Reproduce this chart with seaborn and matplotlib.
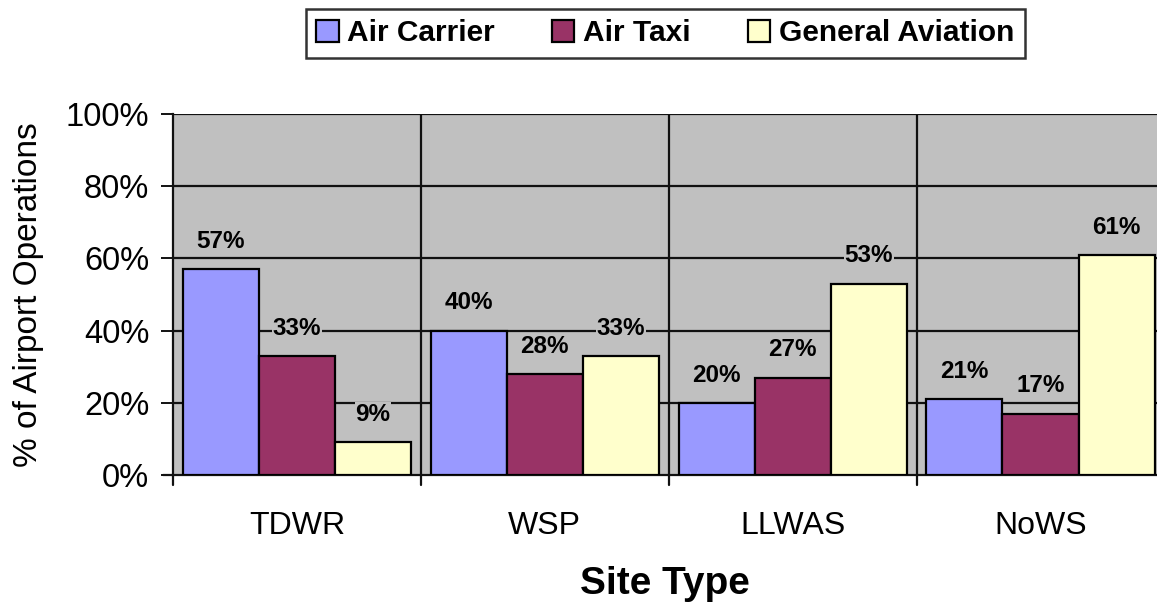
import pandas as pd
import matplotlib.pyplot as plt
import seaborn as sns

# data
sites = ["TDWR", "WSP", "LLWAS", "NoWS"]
series = ["Air Carrier", "Air Taxi", "General Aviation"]
air_carrier = [57, 40, 20, 21]
air_taxi = [33, 28, 27, 17]
general_aviation = [9, 33, 53, 61]
colors = ["#9999FF", "#993366", "#FFFFCC"]
y_ticks = [0, 20, 40, 60, 80, 100]

df = pd.DataFrame({
    "site": sites * 3,
    "series": [series[0]] * 4 + [series[1]] * 4 + [series[2]] * 4,
    "value": air_carrier + air_taxi + general_aviation,
})

sns.set_style("white")
plt.rcParams['font.family'] = ['Liberation Sans', 'DejaVu Sans']
plt.rcParams['text.color'] = 'black'
plt.rcParams['xtick.color'] = 'black'
plt.rcParams['ytick.color'] = 'black'
plt.rcParams['axes.labelcolor'] = 'black'

fig = plt.figure(figsize=(11.57, 6.07), dpi=100)
ax = fig.add_axes([0.1495, 0.2175, 0.8505, 0.5947])
ax.set_facecolor("#C0C0C0")

sns.barplot(data=df, x="site", y="value", hue="series", order=sites,
            hue_order=series, palette=colors, saturation=1, width=0.92, gap=0,
            edgecolor="black", linewidth=1.6, ax=ax, zorder=3)

# value labels above each bar
for container in ax.containers:
    for bar in container:
        h = bar.get_height()
        ax.annotate(f"{h:.0f}%", (bar.get_x() + bar.get_width() / 2, h),
                    xytext=(0, 20), textcoords="offset points",
                    ha="center", va="center", fontsize=17.5, fontweight="bold",
                    bbox=dict(facecolor="#C0C0C0", edgecolor="none", pad=0.5),
                    zorder=4)

ax.set_ylim(0, 100)
ax.set_xlim(-0.5, 3.47)
ax.set_yticks(y_ticks)
ax.set_yticklabels([f"{t}%" for t in y_ticks], fontsize=23.5)
ax.tick_params(axis="x", labelsize=23, length=0, pad=26)
ax.tick_params(axis="y", direction="out", length=9, width=1.4, color="#111111",
               left=True, pad=8)

# gridlines: horizontal at each y tick, vertical between categories
for t in y_ticks[1:]:
    ax.axhline(t, color="#111111", lw=1.6, zorder=1)
for b in [0.5, 1.5, 2.5]:
    ax.axvline(b, color="#111111", lw=1.6, zorder=1)
    ax.plot([b, b], [0, -2.8], color="#111111", lw=1.6, clip_on=False)
ax.plot([-0.5, -0.5], [0, -2.8], color="#111111", lw=1.6, clip_on=False)
ax.plot([-0.54, -0.5], [0, 0], color="#111111", lw=1.6, clip_on=False)

for side in ["top", "right"]:
    ax.spines[side].set_visible(False)
ax.spines["left"].set_color("#111111")
ax.spines["left"].set_linewidth(1.6)
ax.spines["bottom"].set_color("#111111")
ax.spines["bottom"].set_linewidth(1.6)

ax.set_xlabel("Site Type", fontsize=28, fontweight="bold", labelpad=18)
ax.set_ylabel("% of Airport Operations", fontsize=24, labelpad=16)

ax.legend(loc="center", bbox_to_anchor=(0.575, 0.945),
          bbox_transform=fig.transFigure, ncol=3, frameon=True, fancybox=False,
          edgecolor="black", prop={"weight": "bold", "size": 21.5},
          handlelength=0.75, handleheight=0.75, handletextpad=0.3,
          columnspacing=1.9, borderpad=0.35, borderaxespad=0)
ax.get_legend().get_frame().set_linewidth(1.8)

fig.savefig("out.png", dpi=100)
